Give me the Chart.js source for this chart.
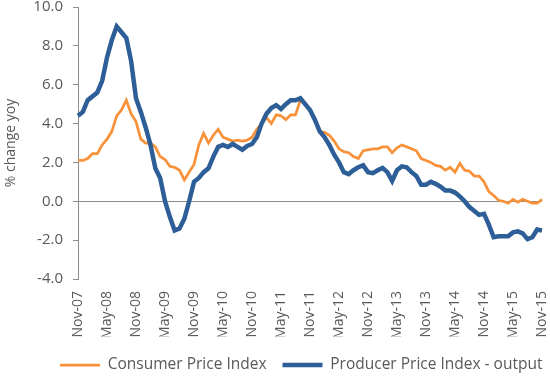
<!DOCTYPE html>
<html>
<head>
<meta charset="utf-8">
<script src="https://cdn.jsdelivr.net/npm/chart.js@4/dist/chart.umd.min.js"></script>
<style>
  html, body { margin: 0; padding: 0; background: #ffffff; }
  #wrap { width: 550px; height: 378px; position: relative; }
</style>
</head>
<body>
<div id="wrap"><canvas id="c" width="550" height="378"></canvas></div>
<script>
// Monthly categories Nov-07 .. Nov-15
const months = ["Jan","Feb","Mar","Apr","May","Jun","Jul","Aug","Sep","Oct","Nov","Dec"];
const categories = [];
for (let k = 0; k < 97; k++) {
  const m = (10 + k) % 12;
  const y = 7 + Math.floor((10 + k) / 12);
  categories.push(months[m] + "-" + String(y).padStart(2, "0"));
}

const seriesNames = ["Consumer Price Index", "Producer Price Index - output"];

const cpi = [
  2.1, 2.1, 2.2, 2.45, 2.45, 2.9, 3.2, 3.6, 4.4, 4.7,
  5.2, 4.5, 4.1, 3.2, 3.0, 3.0, 2.8, 2.3, 2.15, 1.8,
  1.75, 1.6, 1.1, 1.5, 1.9, 2.9, 3.5, 3.0, 3.4, 3.7,
  3.3, 3.2, 3.1, 3.15, 3.1, 3.15, 3.3, 3.7, 4.0, 4.3,
  4.0, 4.45, 4.4, 4.2, 4.45, 4.45, 5.2, 5.0, 4.7, 4.2,
  3.6, 3.55, 3.4, 3.1, 2.7, 2.55, 2.5, 2.3, 2.2, 2.6,
  2.65, 2.7, 2.7, 2.8, 2.8, 2.5, 2.75, 2.9, 2.8, 2.7,
  2.6, 2.2, 2.1, 2.0, 1.85, 1.8, 1.6, 1.75, 1.5, 1.95,
  1.6, 1.55, 1.3, 1.3, 1.0, 0.5, 0.3, 0.05, 0.0, -0.1,
  0.1, -0.05, 0.1, 0.0, -0.1, -0.1, 0.1
];

const ppi = [
  4.4, 4.6, 5.2, 5.4, 5.6, 6.2, 7.4, 8.3, 9.0, 8.7,
  8.4, 7.2, 5.3, 4.6, 3.8, 2.9, 1.7, 1.2, 0.0, -0.8,
  -1.5, -1.4, -0.9, 0.0, 1.0, 1.2, 1.5, 1.7, 2.3, 2.8,
  2.9, 2.8, 2.95, 2.8, 2.65, 2.85, 2.95, 3.3, 4.0, 4.5,
  4.8, 4.95, 4.75, 5.0, 5.2, 5.2, 5.3, 5.0, 4.7, 4.2,
  3.6, 3.3, 2.9, 2.4, 2.0, 1.5, 1.4, 1.6, 1.75, 1.85,
  1.5, 1.45, 1.6, 1.72, 1.5, 1.05, 1.6, 1.8, 1.75, 1.5,
  1.3, 0.85, 0.85, 1.0, 0.9, 0.75, 0.55, 0.55, 0.45, 0.25,
  0.0, -0.3, -0.5, -0.7, -0.65, -1.2, -1.85, -1.8, -1.8, -1.8,
  -1.6, -1.55, -1.65, -1.95, -1.85, -1.45, -1.5
];

const yTicks = { min: -4, max: 10, step: 2 };
const labelEvery = 6;

const ORANGE = "#F7923A";
const BLUE = "#2D5E97";
const GREY = "#8C8C8C";
const TEXT = "#595959";
const FONT = "'Open Sans', 'Liberation Sans', sans-serif";

// Layout targets (pixels)
const PLOT_LEFT = 78, PLOT_TOP = 7, PLOT_BOTTOM = 279, RIGHT_PAD = 8;
const LEGEND_START_X = 60, LEGEND_CENTER_Y = 365;

const legendPlace = {
  id: "legendPlace",
  afterUpdate(chart) {
    const l = chart.legend;
    if (!l || !l.legendHitBoxes || !l.legendHitBoxes.length) return;
    const hb = l.legendHitBoxes[0];
    const dx = LEGEND_START_X - hb.left;
    const dy = LEGEND_CENTER_Y - (hb.top + hb.height / 2);
    if (!isFinite(dx) || !isFinite(dy) || Math.abs(dx) > 200 || Math.abs(dy) > 200) return;
    l.left += dx; l.right += dx; l.top += dy; l.bottom += dy;
    l.legendHitBoxes.forEach(b => { b.left += dx; b.top += dy; });
  }
};

new Chart(document.getElementById("c"), {
  type: "line",
  data: {
    labels: categories,
    datasets: [
      { label: seriesNames[0], data: cpi, borderColor: ORANGE, backgroundColor: ORANGE,
        borderWidth: 2.75, pointRadius: 0, tension: 0, order: 1 },
      { label: seriesNames[1], data: ppi, borderColor: BLUE, backgroundColor: BLUE,
        borderWidth: 4.5, pointRadius: 0, tension: 0, order: 0 }
    ]
  },
  plugins: [legendPlace],
  options: {
    responsive: false,
    animation: false,
    devicePixelRatio: 1,
    layout: { padding: { left: 0, right: RIGHT_PAD, top: PLOT_TOP, bottom: 0 } },
    plugins: {
      tooltip: { enabled: false },
      legend: {
        position: "bottom",
        labels: {
          usePointStyle: true,
          pointStyle: "line",
          pointStyleWidth: 40,
          font: { family: FONT, size: 15.5 },
          color: TEXT,
          padding: 16,
          sort: (a, b) => a.datasetIndex - b.datasetIndex
        }
      }
    },
    scales: {
      x: {
        type: "category",
        offset: false,
        afterFit: (s) => {
          s.paddingLeft = 0; s.paddingRight = 0;
          const lh = s.chart.legend ? s.chart.legend.height : 0;
          s.height = s.chart.height - PLOT_BOTTOM - lh;
        },
        grid: { display: false, drawTicks: false },
        border: { display: false },
        ticks: {
          autoSkip: false,
          minRotation: 90,
          maxRotation: 90,
          padding: 12,
          color: TEXT,
          font: { family: FONT, size: 14 },
          callback: function (val, idx) { return idx % labelEvery === 0 ? this.getLabelForValue(val) : null; }
        }
      },
      y: {
        min: yTicks.min,
        max: yTicks.max,
        afterFit: (s) => { s.width = PLOT_LEFT; s.paddingTop = 0; s.paddingBottom = 0; },
        grid: {
          color: (ctx) => (ctx.tick && ctx.tick.value === 0 ? GREY : "rgba(0,0,0,0)"),
          lineWidth: 1,
          drawTicks: true,
          tickLength: 5,
          tickColor: GREY
        },
        border: { display: true, color: GREY, width: 1 },
        ticks: {
          stepSize: yTicks.step,
          padding: 10,
          color: TEXT,
          font: { family: FONT, size: 15 },
          callback: (v) => Number(v).toFixed(1)
        },
        title: {
          display: true,
          text: "% change yoy",
          color: TEXT,
          font: { family: FONT, size: 14 },
          padding: { top: 3, bottom: 0 }
        }
      }
    }
  }
});
</script>
</body>
</html>
